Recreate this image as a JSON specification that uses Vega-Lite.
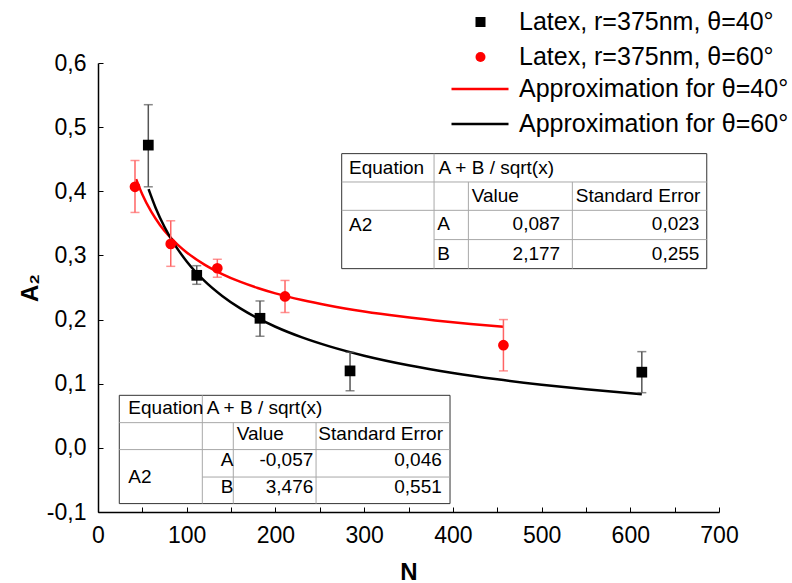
{
  "$schema": "https://vega.github.io/schema/vega-lite/v6.json",
  "width": 621,
  "height": 449,
  "autosize": {"type": "none"},
  "padding": {"left": 98, "top": 63, "right": 73, "bottom": 71},
  "background": "white",
  "data": {"values": [{}]},
  "datasets": {
    "points": [
      {"series": "Latex, r=375nm, θ=40°", "N": 56.7, "A2": 0.472, "lo": 0.407, "hi": 0.535},
      {"series": "Latex, r=375nm, θ=40°", "N": 111.3, "A2": 0.269, "lo": 0.255, "hi": 0.284},
      {"series": "Latex, r=375nm, θ=40°", "N": 182.6, "A2": 0.202, "lo": 0.174, "hi": 0.229},
      {"series": "Latex, r=375nm, θ=40°", "N": 284.1, "A2": 0.120, "lo": 0.089, "hi": 0.149},
      {"series": "Latex, r=375nm, θ=40°", "N": 613, "A2": 0.118, "lo": 0.086, "hi": 0.150},
      {"series": "Latex, r=375nm, θ=60°", "N": 41.7, "A2": 0.407, "lo": 0.367, "hi": 0.448},
      {"series": "Latex, r=375nm, θ=60°", "N": 82, "A2": 0.318, "lo": 0.283, "hi": 0.354},
      {"series": "Latex, r=375nm, θ=60°", "N": 134.5, "A2": 0.280, "lo": 0.266, "hi": 0.294},
      {"series": "Latex, r=375nm, θ=60°", "N": 210.8, "A2": 0.236, "lo": 0.211, "hi": 0.261},
      {"series": "Latex, r=375nm, θ=60°", "N": 457, "A2": 0.160, "lo": 0.120, "hi": 0.200}
    ],
    "fits": [
      {"series": "Approximation for θ=40°", "N": 43, "A2": 0.4190},
      {"series": "Approximation for θ=40°", "N": 50, "A2": 0.3949},
      {"series": "Approximation for θ=40°", "N": 60, "A2": 0.3681},
      {"series": "Approximation for θ=40°", "N": 70, "A2": 0.3472},
      {"series": "Approximation for θ=40°", "N": 80, "A2": 0.3304},
      {"series": "Approximation for θ=40°", "N": 90, "A2": 0.3165},
      {"series": "Approximation for θ=40°", "N": 100, "A2": 0.3047},
      {"series": "Approximation for θ=40°", "N": 120, "A2": 0.2857},
      {"series": "Approximation for θ=40°", "N": 140, "A2": 0.2710},
      {"series": "Approximation for θ=40°", "N": 160, "A2": 0.2591},
      {"series": "Approximation for θ=40°", "N": 180, "A2": 0.2493},
      {"series": "Approximation for θ=40°", "N": 200, "A2": 0.2409},
      {"series": "Approximation for θ=40°", "N": 230, "A2": 0.2305},
      {"series": "Approximation for θ=40°", "N": 260, "A2": 0.2220},
      {"series": "Approximation for θ=40°", "N": 300, "A2": 0.2127},
      {"series": "Approximation for θ=40°", "N": 340, "A2": 0.2051},
      {"series": "Approximation for θ=40°", "N": 380, "A2": 0.1987},
      {"series": "Approximation for θ=40°", "N": 420, "A2": 0.1932},
      {"series": "Approximation for θ=40°", "N": 457, "A2": 0.1888},
      {"series": "Approximation for θ=60°", "N": 57, "A2": 0.4034},
      {"series": "Approximation for θ=60°", "N": 65, "A2": 0.3741},
      {"series": "Approximation for θ=60°", "N": 75, "A2": 0.3444},
      {"series": "Approximation for θ=60°", "N": 85, "A2": 0.3200},
      {"series": "Approximation for θ=60°", "N": 100, "A2": 0.2906},
      {"series": "Approximation for θ=60°", "N": 120, "A2": 0.2603},
      {"series": "Approximation for θ=60°", "N": 140, "A2": 0.2368},
      {"series": "Approximation for θ=60°", "N": 160, "A2": 0.2178},
      {"series": "Approximation for θ=60°", "N": 180, "A2": 0.2021},
      {"series": "Approximation for θ=60°", "N": 200, "A2": 0.1888},
      {"series": "Approximation for θ=60°", "N": 230, "A2": 0.1722},
      {"series": "Approximation for θ=60°", "N": 260, "A2": 0.1586},
      {"series": "Approximation for θ=60°", "N": 300, "A2": 0.1437},
      {"series": "Approximation for θ=60°", "N": 350, "A2": 0.1288},
      {"series": "Approximation for θ=60°", "N": 400, "A2": 0.1168},
      {"series": "Approximation for θ=60°", "N": 450, "A2": 0.1069},
      {"series": "Approximation for θ=60°", "N": 500, "A2": 0.0985},
      {"series": "Approximation for θ=60°", "N": 550, "A2": 0.0912},
      {"series": "Approximation for θ=60°", "N": 613, "A2": 0.0834}
    ]
  },
  "layer": [
    {
      "mark": {"type": "rect", "fill": "white", "stroke": "#333333", "strokeWidth": 1},
      "encoding": {
        "x": {"datum": 274.7, "type": "quantitative",
          "scale": {"domain": [0, 700], "nice": false, "zero": false},
          "axis": {
            "title": "N",
            "values": [0, 50, 100, 150, 200, 250, 300, 350, 400, 450, 500, 550, 600, 650, 700],
            "labelExpr": "datum.value % 100 == 0 ? format(datum.value, 'd') : ''",
            "labelFlush": false, "labelOverlap": false,
            "labelPadding": 17, "titlePadding": 13
          }
        },
        "x2": {"datum": 686.2},
        "y": {"datum": 0.2794, "type": "quantitative",
          "scale": {"domain": [-0.1, 0.6], "nice": false, "zero": false},
          "axis": {
            "title": "A₂",
            "values": [-0.1, -0.05, 0, 0.05, 0.1, 0.15, 0.2, 0.25, 0.3, 0.35, 0.4, 0.45, 0.5, 0.55, 0.6],
            "labelExpr": "abs(round(datum.value*100)) % 10 != 0 ? '' : replace(replace(format(datum.value, '.1f'), '.', ','), '−', '-')",
            "labelOverlap": false, "labelFlush": false,
            "labelPadding": 17, "titlePadding": 4
          }
        },
        "y2": {"datum": 0.4587}
      }
    },
    {
      "mark": {"type": "rect", "fill": "white", "stroke": "#333333", "strokeWidth": 1},
      "encoding": {
        "x": {"datum": 24.0}, "x2": {"datum": 396.8},
        "y": {"datum": -0.0869}, "y2": {"datum": 0.0819}
      }
    },
    {"mark": {"type": "rule", "color": "#a8a8a8", "strokeWidth": 1}, "encoding": {"x": {"datum": 274.7}, "x2": {"datum": 686.2}, "y": {"datum": 0.4145}}},
    {"mark": {"type": "rule", "color": "#a8a8a8", "strokeWidth": 1}, "encoding": {"x": {"datum": 274.7}, "x2": {"datum": 686.2}, "y": {"datum": 0.3703}}},
    {"mark": {"type": "rule", "color": "#a8a8a8", "strokeWidth": 1}, "encoding": {"x": {"datum": 378.8}, "x2": {"datum": 686.2}, "y": {"datum": 0.3247}}},
    {"mark": {"type": "rule", "color": "#a8a8a8", "strokeWidth": 1}, "encoding": {"x": {"datum": 378.8}, "y": {"datum": 0.2794}, "y2": {"datum": 0.4587}}},
    {"mark": {"type": "rule", "color": "#a8a8a8", "strokeWidth": 1}, "encoding": {"x": {"datum": 417.5}, "y": {"datum": 0.2794}, "y2": {"datum": 0.4145}}},
    {"mark": {"type": "rule", "color": "#a8a8a8", "strokeWidth": 1}, "encoding": {"x": {"datum": 534.7}, "y": {"datum": 0.2794}, "y2": {"datum": 0.4145}}},
    {"mark": {"type": "rule", "color": "#a8a8a8", "strokeWidth": 1}, "encoding": {"x": {"datum": 24.0}, "x2": {"datum": 396.8}, "y": {"datum": 0.0393}}},
    {"mark": {"type": "rule", "color": "#a8a8a8", "strokeWidth": 1}, "encoding": {"x": {"datum": 24.0}, "x2": {"datum": 396.8}, "y": {"datum": -0.0027}}},
    {"mark": {"type": "rule", "color": "#a8a8a8", "strokeWidth": 1}, "encoding": {"x": {"datum": 117.6}, "x2": {"datum": 396.8}, "y": {"datum": -0.0455}}},
    {"mark": {"type": "rule", "color": "#a8a8a8", "strokeWidth": 1}, "encoding": {"x": {"datum": 117.6}, "y": {"datum": -0.0869}, "y2": {"datum": 0.0819}}},
    {"mark": {"type": "rule", "color": "#a8a8a8", "strokeWidth": 1}, "encoding": {"x": {"datum": 152.5}, "y": {"datum": -0.0869}, "y2": {"datum": 0.0393}}},
    {"mark": {"type": "rule", "color": "#a8a8a8", "strokeWidth": 1}, "encoding": {"x": {"datum": 245.8}, "y": {"datum": -0.0869}, "y2": {"datum": 0.0393}}},

    {"mark": {"type": "text", "text": "Equation", "align": "left", "baseline": "middle", "fontSize": 19}, "encoding": {"x": {"datum": 283}, "y": {"datum": 0.4366}}},
    {"mark": {"type": "text", "text": "A + B / sqrt(x)", "align": "left", "baseline": "middle", "fontSize": 19}, "encoding": {"x": {"datum": 383.7}, "y": {"datum": 0.4366}}},
    {"mark": {"type": "text", "text": "Value", "align": "left", "baseline": "middle", "fontSize": 19}, "encoding": {"x": {"datum": 421.3}, "y": {"datum": 0.3926}}},
    {"mark": {"type": "text", "text": "Standard Error", "align": "left", "baseline": "middle", "fontSize": 19}, "encoding": {"x": {"datum": 538.6}, "y": {"datum": 0.3926}}},
    {"mark": {"type": "text", "text": "A2", "align": "left", "baseline": "middle", "fontSize": 19}, "encoding": {"x": {"datum": 283}, "y": {"datum": 0.347}}},
    {"mark": {"type": "text", "text": "A", "align": "left", "baseline": "middle", "fontSize": 19}, "encoding": {"x": {"datum": 382.5}, "y": {"datum": 0.3485}}},
    {"mark": {"type": "text", "text": "B", "align": "left", "baseline": "middle", "fontSize": 19}, "encoding": {"x": {"datum": 382.5}, "y": {"datum": 0.3017}}},
    {"mark": {"type": "text", "text": "0,087", "align": "right", "baseline": "middle", "fontSize": 19}, "encoding": {"x": {"datum": 520.9}, "y": {"datum": 0.3485}}},
    {"mark": {"type": "text", "text": "0,023", "align": "right", "baseline": "middle", "fontSize": 19}, "encoding": {"x": {"datum": 677.9}, "y": {"datum": 0.3485}}},
    {"mark": {"type": "text", "text": "2,177", "align": "right", "baseline": "middle", "fontSize": 19}, "encoding": {"x": {"datum": 520.9}, "y": {"datum": 0.3017}}},
    {"mark": {"type": "text", "text": "0,255", "align": "right", "baseline": "middle", "fontSize": 19}, "encoding": {"x": {"datum": 677.9}, "y": {"datum": 0.3017}}},

    {"mark": {"type": "text", "text": "Equation", "align": "left", "baseline": "middle", "fontSize": 19}, "encoding": {"x": {"datum": 34.2}, "y": {"datum": 0.0627}}},
    {"mark": {"type": "text", "text": "A + B / sqrt(x)", "align": "left", "baseline": "middle", "fontSize": 19}, "encoding": {"x": {"datum": 122.5}, "y": {"datum": 0.0627}}},
    {"mark": {"type": "text", "text": "Value", "align": "left", "baseline": "middle", "fontSize": 19}, "encoding": {"x": {"datum": 156.4}, "y": {"datum": 0.0222}}},
    {"mark": {"type": "text", "text": "Standard Error", "align": "left", "baseline": "middle", "fontSize": 19}, "encoding": {"x": {"datum": 248.4}, "y": {"datum": 0.0222}}},
    {"mark": {"type": "text", "text": "A2", "align": "left", "baseline": "middle", "fontSize": 19}, "encoding": {"x": {"datum": 34.2}, "y": {"datum": -0.0455}}},
    {"mark": {"type": "text", "text": "A", "align": "left", "baseline": "middle", "fontSize": 19}, "encoding": {"x": {"datum": 138.3}, "y": {"datum": -0.0183}}},
    {"mark": {"type": "text", "text": "B", "align": "left", "baseline": "middle", "fontSize": 19}, "encoding": {"x": {"datum": 138.3}, "y": {"datum": -0.0610}}},
    {"mark": {"type": "text", "text": "-0,057", "align": "right", "baseline": "middle", "fontSize": 19}, "encoding": {"x": {"datum": 242.7}, "y": {"datum": -0.0183}}},
    {"mark": {"type": "text", "text": "0,046", "align": "right", "baseline": "middle", "fontSize": 19}, "encoding": {"x": {"datum": 387.5}, "y": {"datum": -0.0183}}},
    {"mark": {"type": "text", "text": "3,476", "align": "right", "baseline": "middle", "fontSize": 19}, "encoding": {"x": {"datum": 242.7}, "y": {"datum": -0.0610}}},
    {"mark": {"type": "text", "text": "0,551", "align": "right", "baseline": "middle", "fontSize": 19}, "encoding": {"x": {"datum": 387.5}, "y": {"datum": -0.0610}}},

    {
      "data": {"name": "fits"},
      "mark": {"type": "line", "strokeWidth": 2.5, "interpolate": "monotone"},
      "encoding": {
        "x": {"field": "N", "type": "quantitative", "title": "N"},
        "y": {"field": "A2", "type": "quantitative", "title": "A₂"},
        "stroke": {
          "field": "series", "type": "nominal",
          "scale": {"domain": ["Approximation for θ=40°", "Approximation for θ=60°"], "range": ["#ff0000", "#000000"]},
          "legend": {
            "title": null, "orient": "none", "legendX": 352, "legendY": 14,
            "direction": "vertical", "clipHeight": 24, "rowPadding": 10,
            "labelOffset": 9, "symbolOffset": 0, "padding": 0,
            "symbolType": "stroke", "symbolSize": 3249, "symbolStrokeWidth": 2.5, "symbolOpacity": 1,
            "labelFont": "Liberation Sans", "labelFontSize": 25, "labelColor": "black", "labelLimit": 500
          }
        }
      }
    },
    {
      "data": {"name": "points"},
      "mark": {"type": "rule", "strokeWidth": 1.5},
      "encoding": {
        "x": {"field": "N", "type": "quantitative", "title": "N"},
        "y": {"field": "lo", "type": "quantitative", "title": "A₂"},
        "y2": {"field": "hi"},
        "color": {"field": "series", "type": "nominal", "legend": null,
          "scale": {"domain": ["Latex, r=375nm, θ=60°", "Latex, r=375nm, θ=40°"], "range": ["#ff6464", "#555555"]}}
      }
    },
    {
      "data": {"name": "points"},
      "mark": {"type": "tick", "orient": "horizontal", "size": 9, "thickness": 1.5},
      "encoding": {
        "x": {"field": "N", "type": "quantitative", "title": "N"},
        "y": {"field": "lo", "type": "quantitative", "title": "A₂"},
        "color": {"field": "series", "type": "nominal", "legend": null}
      }
    },
    {
      "data": {"name": "points"},
      "mark": {"type": "tick", "orient": "horizontal", "size": 9, "thickness": 1.5},
      "encoding": {
        "x": {"field": "N", "type": "quantitative", "title": "N"},
        "y": {"field": "hi", "type": "quantitative", "title": "A₂"},
        "color": {"field": "series", "type": "nominal", "legend": null}
      }
    },
    {
      "data": {"name": "points"},
      "mark": {"type": "point", "filled": true, "opacity": 1, "size": 115, "strokeWidth": 0},
      "encoding": {
        "x": {"field": "N", "type": "quantitative", "title": "N"},
        "y": {"field": "A2", "type": "quantitative", "title": "A₂"},
        "fill": {
          "field": "series", "type": "nominal",
          "scale": {"domain": ["Latex, r=375nm, θ=40°", "Latex, r=375nm, θ=60°"], "range": ["#000000", "#ff0000"]},
          "legend": {
            "title": null, "orient": "none", "legendX": 370, "legendY": -53,
            "direction": "vertical", "clipHeight": 24, "rowPadding": 10,
            "labelOffset": 26, "symbolOffset": 0, "padding": 0,
            "symbolSize": 100, "symbolOpacity": 1, "symbolStrokeWidth": 0,
            "labelFont": "Liberation Sans", "labelFontSize": 25, "labelColor": "black", "labelLimit": 500
          }
        },
        "shape": {
          "field": "series", "type": "nominal",
          "scale": {"domain": ["Latex, r=375nm, θ=40°", "Latex, r=375nm, θ=60°"], "range": ["square", "circle"]}
        }
      }
    }
  ],
  "config": {
    "font": "Liberation Sans",
    "view": {"stroke": null},
    "text": {"font": "Liberation Sans", "color": "black"},
    "axis": {
      "grid": false,
      "domainColor": "black",
      "domainWidth": 1.5,
      "tickColor": "black",
      "tickSize": -5,
      "tickWidth": 1,
      "labelFont": "Liberation Sans",
      "labelFontSize": 23,
      "labelColor": "black",
      "titleFont": "Liberation Sans",
      "titleFontSize": 24,
      "titleFontWeight": "bold",
      "titleColor": "black"
    }
  }
}
